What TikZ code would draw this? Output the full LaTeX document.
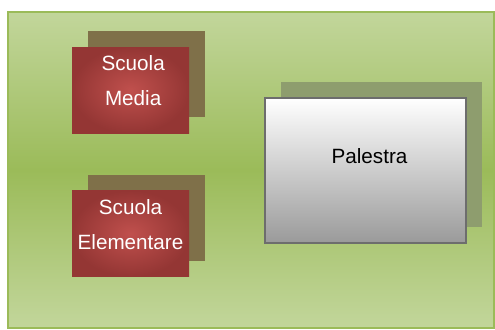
\documentclass[tikz,border=0pt]{standalone}
\usepackage{fontspec}
\setmainfont{Liberation Sans}
\usetikzlibrary{positioning}
\definecolor{bggreen}{HTML}{9BBB59}
\definecolor{bglight}{HTML}{C2D69B}
\definecolor{boxred}{HTML}{C0504D}
\definecolor{boxdark}{HTML}{943634}
\definecolor{shadebrown}{HTML}{7F7049}
\definecolor{shadegray}{HTML}{8E9D6E}
\definecolor{gymedge}{HTML}{6D6D6D}
\definecolor{gymlow}{HTML}{9A9A9A}
\pgfdeclarelayer{back}
\pgfdeclarelayer{shade}
\pgfsetlayers{back,shade,main}
\tikzset{
  schoolbox/.style={minimum width=87.75pt, minimum height=64.5pt,
    inner sep=0pt, outer sep=0pt, inner color=boxred, outer color=boxdark},
  gymbox/.style={draw=gymedge, line width=1.5pt, minimum width=150.75pt,
    minimum height=108.75pt, inner sep=0pt, outer sep=0pt,
    top color=white, bottom color=gymlow},
  boxtext/.style={text=white, align=center, inner sep=0pt,
    font=\fontsize{15.5}{26.25}\selectfont},
  gymtext/.style={text=black, inner sep=0pt, font=\fontsize{15.5}{18}\selectfont},
  shadowof/.style={shift={(16,-16)}}
}

\begin{document}
\begin{tikzpicture}[x=0.75pt, y=-0.75pt]
  \useasboundingbox (0,0) rectangle (495,329);

  \node[schoolbox] (media) at (130.5,90) {};
  \node[schoolbox] (elem) at (130.5,233.5) {};
  \node[gymbox] (gym) at (365.5,170.5) {};

  \node[boxtext] (mediatext) at ([xshift=2pt, yshift=6.75pt]media.center) {Scuola\\Media};
  \node[boxtext] (elemtext) at ([yshift=6.5pt]elem.center) {Scuola\\Elementare};
  \node[gymtext] (gymtext) at ([xshift=3pt, yshift=11pt]gym.center) {Palestra};

  % background
  \begin{pgfonlayer}{back}
    \fill[top color=bglight, bottom color=bggreen] (8,12) rectangle (494,170);
    \fill[top color=bggreen, bottom color=bglight] (8,170) rectangle (494,328);
    \draw[bggreen, line width=1.5pt] (8,12) rectangle (494,328);
  \end{pgfonlayer}

  % shadows
  \begin{pgfonlayer}{shade}
    \fill[shadebrown] ([shadowof]media.south west) rectangle ([shadowof]media.north east);
    \fill[shadebrown] ([shadowof]elem.south west) rectangle ([shadowof]elem.north east);
    \fill[shadegray] ([shadowof]gym.south west) rectangle ([shadowof]gym.north east);
  \end{pgfonlayer}
\end{tikzpicture}
\end{document}
